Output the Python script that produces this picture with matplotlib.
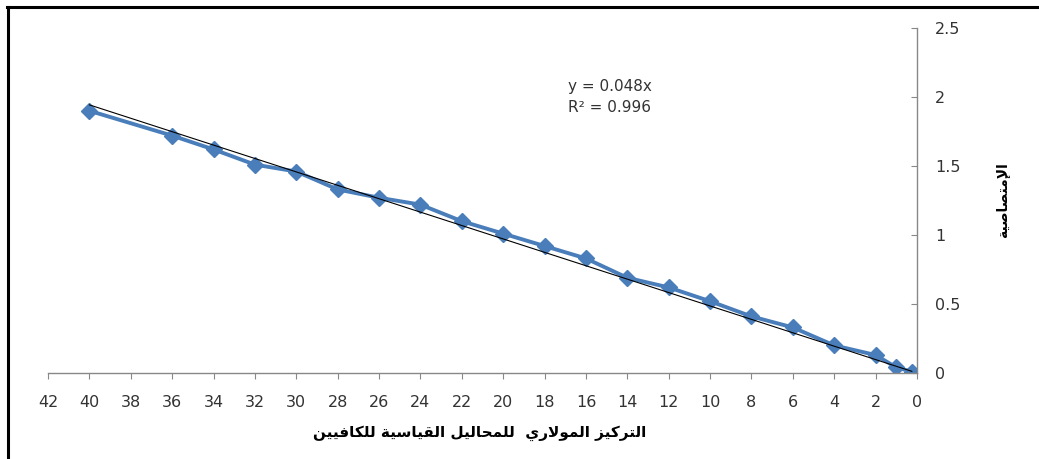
import matplotlib
matplotlib.use("Agg")
import matplotlib.pyplot as plt
from matplotlib.lines import Line2D
import numpy as np

# Data
conc = [40, 36, 34, 32, 30, 28, 26, 24, 22, 20, 18, 16, 14, 12, 10, 8, 6, 4, 2, 1, 0.25]
absorb = [1.90, 1.72, 1.62, 1.51, 1.46, 1.33, 1.27, 1.22, 1.10, 1.01, 0.92, 0.83,
          0.69, 0.62, 0.52, 0.41, 0.33, 0.20, 0.13, 0.04, 0.01]
xticks = list(range(0, 44, 2))
yticks = [0, 0.5, 1, 1.5, 2, 2.5]
ytick_labels = ["0", "0.5", "1", "1.5", "2", "2.5"]
xlabel = "التركيز المولاري  للمحاليل القياسية للكافيين"
ylabel = "الإمتصاصية"
eq_lines = ["y = 0.048x", "R² = 0.996"]

# simple Arabic shaping (contextual forms + right-to-left order)
FORMS = {
    'ا': ('\uFE8D', '\uFE8E', None, None),
    'إ': ('\uFE87', '\uFE88', None, None),
    'ر': ('\uFEAD', '\uFEAE', None, None),
    'ز': ('\uFEAF', '\uFEB0', None, None),
    'و': ('\uFEED', '\uFEEE', None, None),
    'ة': ('\uFE93', '\uFE94', None, None),
    'ل': ('\uFEDD', '\uFEDE', '\uFEDF', '\uFEE0'),
    'ت': ('\uFE95', '\uFE96', '\uFE97', '\uFE98'),
    'ك': ('\uFED9', '\uFEDA', '\uFEDB', '\uFEDC'),
    'ي': ('\uFEF1', '\uFEF2', '\uFEF3', '\uFEF4'),
    'م': ('\uFEE1', '\uFEE2', '\uFEE3', '\uFEE4'),
    'ح': ('\uFEA1', '\uFEA2', '\uFEA3', '\uFEA4'),
    'ق': ('\uFED5', '\uFED6', '\uFED7', '\uFED8'),
    'س': ('\uFEB1', '\uFEB2', '\uFEB3', '\uFEB4'),
    'ف': ('\uFED1', '\uFED2', '\uFED3', '\uFED4'),
    'ن': ('\uFEE5', '\uFEE6', '\uFEE7', '\uFEE8'),
    'ص': ('\uFEB9', '\uFEBA', '\uFEBB', '\uFEBC'),
}
LAM_ALEF = {'ا': ('\uFEFB', '\uFEFC'), 'إ': ('\uFEF9', '\uFEFA')}


def shape(text):
    items = []
    i = 0
    while i < len(text):
        c = text[i]
        if c == 'ل' and i + 1 < len(text) and text[i + 1] in LAM_ALEF:
            items.append(('LA', text[i + 1]))
            i += 2
        else:
            items.append((c, None))
            i += 1
    out = []
    for k, (c, a) in enumerate(items):
        prev = items[k - 1][0] if k > 0 else None
        prev_joins = prev in FORMS and FORMS[prev][2] is not None
        if c == 'LA':
            iso, fin = LAM_ALEF[a]
            out.append(fin if prev_joins else iso)
            continue
        if c not in FORMS:
            out.append(c)
            continue
        f = FORMS[c]
        nxt = items[k + 1][0] if k + 1 < len(items) else None
        next_joins = f[2] is not None and (nxt in FORMS or nxt == 'LA')
        if prev_joins and next_joins:
            out.append(f[3])
        elif prev_joins:
            out.append(f[1])
        elif next_joins:
            out.append(f[2])
        else:
            out.append(f[0])
    return ''.join(reversed(out))


plt.rcParams['font.family'] = ['DejaVu Sans']

fig = plt.figure(figsize=(10.39, 4.59), dpi=100)
ax = fig.add_axes([48 / 1039, (459 - 373) / 459, (917 - 48) / 1039, (373 - 28) / 459])

x = np.array(conc)
y = np.array(absorb)
slope = np.sum(x * y) / np.sum(x * x)
xfit = np.array([x.min(), x.max()])
ax.plot(xfit, slope * xfit, color='black', lw=0.8, zorder=3)
ax.plot(conc, absorb, color='#4A7EBB', lw=2.8, marker='D', markersize=8.5,
        markeredgecolor='#4A7EBB', zorder=2)

ax.set_xlim(42, 0)
ax.set_ylim(0, 2.5)
ax.set_xticks(xticks)
ax.set_yticks(yticks)
ax.set_yticklabels(ytick_labels)
ax.yaxis.tick_right()

for s in ['left', 'top']:
    ax.spines[s].set_visible(False)
for s in ['right', 'bottom']:
    ax.spines[s].set_color('#888888')
    ax.spines[s].set_linewidth(1.0)

ax.tick_params(axis='x', direction='out', length=4, pad=12, colors='#888888',
               labelcolor='#333333', labelsize=11.5)
ax.tick_params(axis='y', direction='in', length=4, pad=13, colors='#888888',
               labelcolor='#333333', labelsize=11.5)

for j, line in enumerate(eq_lines):
    fig.text(568 / 1039, 1 - (87 + 20 * j) / 459, line, fontsize=11,
             color='#333333', va='center', ha='left')

fig.text(480 / 1039, 1 - 433 / 459, shape(xlabel), fontsize=11, fontweight='bold',
         ha='center', va='center', color='black')
fig.text(1003 / 1039, 1 - 200 / 459, shape(ylabel), fontsize=10, fontweight='bold',
         rotation=90, ha='center', va='center', color='black')

# frame around the chart (left and top edges visible)
fig.add_artist(Line2D([8 / 1039, 8 / 1039], [0, 1 - 7 / 459], transform=fig.transFigure,
                      color='black', lw=2.2))
fig.add_artist(Line2D([7 / 1039, 1], [1 - 7 / 459, 1 - 7 / 459], transform=fig.transFigure,
                      color='black', lw=2.2))

fig.savefig('out.png', dpi=100)
